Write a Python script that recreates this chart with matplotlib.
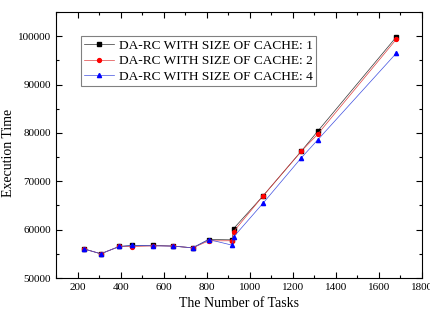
import matplotlib
matplotlib.use("Agg")
import matplotlib.pyplot as plt
from matplotlib.ticker import MultipleLocator

tasks = [228, 308, 394, 453, 550, 643, 735, 809, 918, 925, 1061, 1239, 1315, 1681]
cache1 = [56040, 55010, 56520, 56720, 56750, 56600, 56240, 57960, 57890, 60220, 66940, 76200, 80320, 99860]
cache2 = [56040, 55010, 56520, 56500, 56650, 56600, 56240, 57680, 57700, 59600, 66940, 76200, 79700, 99380]
cache4 = [56040, 55010, 56520, 56720, 56650, 56600, 56240, 57960, 56790, 58500, 65430, 74830, 78530, 96500]
labels = ["DA-RC WITH SIZE OF CACHE: 1", "DA-RC WITH SIZE OF CACHE: 2", "DA-RC WITH SIZE OF CACHE: 4"]

plt.rcParams['font.family'] = ['Liberation Serif', 'DejaVu Serif']

fig = plt.figure(figsize=(4.31, 3.18), dpi=100)
ax = fig.add_axes([56/431, 1-278/318, (422-56)/431, (278-12)/318])

ax.plot(tasks, cache1, color='#333333', marker='s', markersize=2.6, markerfacecolor='black',
        markeredgecolor='black', linewidth=0.5, label=labels[0])
ax.plot(tasks, cache2, color='#e04040', marker='o', markersize=2.8, markerfacecolor='red',
        markeredgecolor='red', linewidth=0.5, label=labels[1])
ax.plot(tasks, cache4, color='#4050e0', marker='^', markersize=3.0, markerfacecolor='blue',
        markeredgecolor='blue', linewidth=0.5, label=labels[2])

ax.set_xlim(100, 1800)
ax.set_ylim(50000, 105000)
ax.xaxis.set_major_locator(MultipleLocator(200))
ax.xaxis.set_minor_locator(MultipleLocator(100))
ax.yaxis.set_major_locator(MultipleLocator(10000))
ax.yaxis.set_minor_locator(MultipleLocator(5000))
ax.tick_params(which='both', direction='in', top=True, right=True, labelsize=8, width=0.8)
ax.tick_params(which='major', length=4)
ax.tick_params(which='minor', length=2)
for s in ax.spines.values():
    s.set_linewidth(0.8)
ax.set_xlabel('The Number of Tasks', fontsize=10)
ax.set_ylabel('Execution Time', fontsize=10)
ax.yaxis.set_label_coords(-0.112, 0.47)

leg = ax.legend(loc='upper left', bbox_to_anchor=(0.068, 0.91), borderaxespad=0, fontsize=9.6,
                fancybox=False, edgecolor='gray', framealpha=1, handlelength=2.2, borderpad=0.25,
                labelspacing=0.25, handletextpad=0.4)
leg.get_frame().set_linewidth(0.8)

fig.savefig('out.png', dpi=100)
